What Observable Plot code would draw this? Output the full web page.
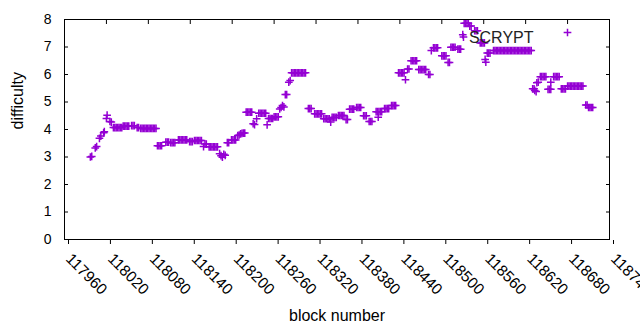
<!DOCTYPE html>
<html>
<head>
<meta charset="utf-8">
<script src="https://cdn.jsdelivr.net/npm/d3@7"></script>
<script src="https://cdn.jsdelivr.net/npm/@observablehq/plot@0.6"></script>
<style>
  html, body { margin: 0; padding: 0; background: #fff; }
</style>
</head>
<body>
<div id="chart"></div>
<script>
const seriesName = "SCRYPT";
const xLabel = "block number";
const yLabel = "difficulty";
const xTicks = [117960, 118020, 118080, 118140, 118200, 118260, 118320, 118380, 118440, 118500, 118560, 118620, 118680, 118740];
const yTicks = [0, 1, 2, 3, 4, 5, 6, 7, 8];

const blocks = [
  117997,117999, 118004,118006, 118010,118012, 118016,118017, 118020,118021, 118025,118027,
  118030,118032,118034,118036,118038,118040,118042,
  118044,118046,118048,118050,118052,
  118056,118058,118060,
  118064,118066,
  118069,118071,118073,118075,118077,118079,118081,118083,118085,118087,118089,118091,
  118093,118095,118097,118099,
  118105,118107,118109,
  118112,118114,118116,118118,
  118123,118125,118127,118129,118131,118133,118135,
  118139,118141,118143,
  118146,118148,118150,118152,118154,118156,
  118159,118161,118163,
  118167,118169,118171,118173,118175,118177,118179,
  118182,118184,118186,118188,118190,
  118193,118195,
  118199,118201,118203,118205,
  118208,118210,118212,118214,118216,118218,
  118220,118222,118224,118226,118228,
  118230,118232,
  118235,
  118238,118240,118242,118244,118246,118248,
  118250,
  118252,118254,118256,118258,
  118260,118262,118264,118266,
  118268,118270,118272,118274,
  118276,118278,
  118281,118283,
  118285,118287,118289,118291,118293,118295,118297,118299,118301,118303,118305,
  118309,118311,118313,
  118318,118320,118322,118324,118326,118328,
  118331,118333,118335,118337,118339,118341,
  118343,118345,118347,118349,
  118352,118354,118356,118358,118360,
  118363,118365,
  118368,118370,118372,118374,
  118378,118380,118382,118384,
  118388,118390,118392,
  118396,118398,118400,
  118406,118408,118409,118410,118412,118414,
  118418,118420,118422,118424,
  118428,118430,118432,118434,
  118438,118440,118442,118444,118446,118448,
  118451,118453,
  118456,118458,118460,118462,118464,
  118467,118469,118471,118473,118475,118477,
  118481,118483,
  118485,118488,118490,118492,118494,
  118500,118502,118504,118506,
  118509,118511,
  118513,118515,118517,118519,
  118523,118525,118527,
  118530,118531,
  118532,118534,118536,118538,
  118540,118542,
  118547,118549,118551,
  118555,118557,118559,118561,
  118562,118563,
  118565,118567,118569,
  118574,118576,118578,118580,118582,118584,118586,118588,118590,118592,118594,118596,118598,118600,
  118602,118604,118606,118608,118610,118612,118614,118616,118618,118620,118622,118624,118626,118628,
  118630,118632,118633,118635,
  118636,118638,
  118641,118643,118645,118647,118649,
  118652,118654,118656,118656,
  118660,118662,118664,118666,118668,
  118671,118673,118675,118677,
  118680,118682,118684,118686,118688,118690,118692,118694,118696,118698,118700,118702,
  118706,118708,
  118710,118712,118714,118716
];

const difficulty = [
  3.00,3.02, 3.33,3.38, 3.68,3.76, 3.88,3.92, 4.40,4.52, 4.29,4.27,
  4.07,4.07,4.07,4.07,4.07,4.07,4.07,
  4.12,4.12,4.12,4.12,4.12,
  4.14,4.14,4.14,
  4.07,4.07,
  4.04,4.04,4.04,4.04,4.04,4.04,4.04,4.04,4.04,4.04,4.04,4.04,
  3.41,3.41,3.41,3.41,
  3.54,3.54,3.54,
  3.52,3.52,3.52,3.52,
  3.62,3.62,3.62,3.62,3.62,3.62,3.62,
  3.56,3.56,3.56,
  3.60,3.60,3.60,3.60,3.60,3.60,
  3.38,3.47,3.47,
  3.37,3.37,3.37,3.37,3.37,3.37,3.37,
  3.12,3.05,2.99,3.10,3.06,
  3.52,3.52,
  3.62,3.62,3.62,3.62,
  3.78,3.80,3.84,3.86,3.87,3.87,
  4.63,4.63,4.63,4.63,4.63,
  4.21,4.18,
  4.39,
  4.59,4.59,4.59,4.59,4.59,4.59,
  4.17,
  4.40,4.40,4.40,4.40,
  4.46,4.46,4.46,4.46,
  4.75,4.80,4.87,4.82,
  5.27,5.27,
  5.72,5.78,
  6.06,6.06,6.06,6.06,6.06,6.06,6.06,6.06,6.06,6.06,6.06,
  4.76,4.76,4.76,
  4.57,4.57,4.57,4.57,4.57,4.57,
  4.39,4.39,4.39,4.39,4.39,4.27,
  4.44,4.44,4.44,4.44,
  4.51,4.51,4.51,4.51,4.51,
  4.36,4.36,
  4.74,4.74,4.74,4.74,
  4.80,4.80,4.80,4.80,
  4.50,4.50,4.50,
  4.29,4.29,4.29,
  4.65,4.65,4.45,4.65,4.65,4.65,
  4.76,4.76,4.76,4.76,
  4.87,4.87,4.87,4.87,
  6.06,6.06,6.06,6.06,6.06,5.81,
  6.20,6.20,
  6.50,6.50,6.50,6.50,6.50,
  6.18,6.18,6.18,6.18,6.18,6.18,
  6.00,6.00,
  6.87,6.97,6.97,6.97,6.97,
  6.68,6.68,6.68,6.68,
  6.44,6.44,
  6.99,6.99,6.99,6.99,
  6.92,6.92,6.92,
  7.45,7.36,
  7.86,7.86,7.86,7.86,
  7.76,7.76,
  7.59,7.59,7.59,
  7.15,7.15,7.15,7.15,
  6.55,6.45,
  6.78,6.78,6.78,
  6.87,6.87,6.87,6.87,6.87,6.87,6.87,6.87,6.87,6.87,6.87,6.87,6.87,6.87,
  6.87,6.87,6.87,6.87,6.87,6.87,6.87,6.87,6.87,6.87,6.87,6.87,6.87,6.87,
  5.48,5.48,5.42,5.38,
  5.70,5.72,
  5.92,5.92,5.92,5.92,5.92,
  5.46,5.46,5.46,5.72,
  5.92,5.92,5.92,5.92,5.92,
  5.48,5.48,5.48,5.48,
  5.58,5.58,5.58,5.58,5.58,5.58,5.58,5.58,5.58,5.58,5.58,5.58,
  4.89,4.89,
  4.80,4.80,4.80,4.80
];

if (blocks.length !== difficulty.length) console.error("length mismatch", blocks.length, difficulty.length);
const points = blocks.map((b, i) => ({block: b, difficulty: difficulty[i]}));

const color = "#9400d3";
const font = "'Liberation Sans', Arial, sans-serif";

const chart = Plot.plot({
  width: 640,
  height: 330,
  marginLeft: 64,
  marginRight: 31,
  marginTop: 19,
  marginBottom: 91,
  style: {fontFamily: font, fontSize: "14px", color: "#000", background: "#fff"},
  x: {domain: [117960, 118740]},
  y: {domain: [0, 8]},
  marks: [
    Plot.axisX({ticks: xTicks, tickSize: -4, tickRotate: 45, tickFormat: "d", label: null, fontSize: 15.5, textAnchor: "start", dx: 4, dy: 5}),
    Plot.axisX({anchor: "top", ticks: xTicks, tickSize: -4, tickFormat: () => "", label: null}),
    Plot.axisY({ticks: yTicks, tickSize: -4, tickPadding: 17, tickFormat: "d", label: null, fontSize: 14}),
    Plot.axisY({anchor: "right", ticks: yTicks, tickSize: -4, tickFormat: () => "", label: null}),
    Plot.dot(points, {x: "block", y: "difficulty", symbol: "plus", r: 2.6, stroke: color, strokeWidth: 1.5}),
    Plot.frame({stroke: "#000", strokeWidth: 1}),
    Plot.text([xLabel], {frameAnchor: "bottom", dy: 81, text: d => d, fontSize: 16, fill: "#000"}),
    Plot.text([yLabel], {frameAnchor: "left", dx: -47, rotate: -90, text: d => d, fontSize: 16, fill: "#000"}),
    Plot.text([seriesName], {frameAnchor: "top-right", dx: -76, dy: 12, textAnchor: "end", text: d => d, fontSize: 16, fill: "#222"}),
    Plot.dot([seriesName], {x: null, y: null, frameAnchor: "top-right", dx: -42, dy: 13, symbol: "plus", r: 2.6, stroke: color, strokeWidth: 1.5})
  ]
});
document.getElementById("chart").appendChild(chart);
</script>
</body>
</html>
